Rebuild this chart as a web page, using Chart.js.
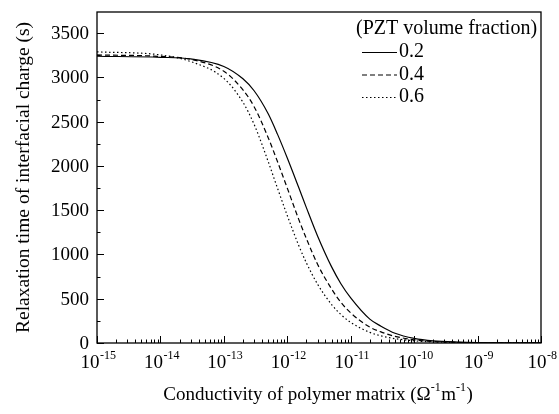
<!DOCTYPE html>
<html>
<head>
<meta charset="utf-8">
<script src="https://cdn.jsdelivr.net/npm/chart.js@4.4.1/dist/chart.umd.min.js"></script>
<style>
  html, body { margin: 0; padding: 0; background: #fff; }
  #wrap { width: 559px; height: 414px; }
</style>
</head>
<body>
<div id="wrap"><canvas id="c" width="559" height="414"></canvas></div>
<script>
// ---- data ----
const conductivity = [1e-15, 1e-14, 3e-14, 1e-13, 2e-13, 3e-13, 5e-13, 7e-13, 1e-12, 1.5e-12, 2e-12, 3e-12, 5e-12, 7e-12, 1e-11, 2e-11, 3e-11, 5e-11, 1e-10, 2e-10, 5e-10, 1e-9, 1e-8];
const seriesLabels = ['0.2', '0.4', '0.6'];
const tau02 = [3240, 3228, 3210, 3125, 2985, 2850, 2590, 2360, 2090, 1765, 1530, 1210, 860, 670, 510, 270, 190, 110, 52, 24, 10, 5, 1];
const tau04 = [3255, 3238, 3205, 3070, 2860, 2670, 2320, 2050, 1750, 1405, 1180, 890, 610, 460, 340, 180, 125, 75, 36, 17, 7, 3.5, 0.5];
const tau06 = [3290, 3255, 3180, 2990, 2720, 2470, 2050, 1750, 1440, 1110, 906, 665, 434, 322, 233, 120, 81, 49, 25, 12, 5, 2.5, 0.3];
const legendTitle = '(PZT volume fraction)';
const xTickValues = [1e-15, 1e-14, 1e-13, 1e-12, 1e-11, 1e-10, 1e-9, 1e-8];
const xTickBase = '10';
const xTickExponents = ['-15', '-14', '-13', '-12', '-11', '-10', '-9', '-8'];
const yTickValues = [0, 500, 1000, 1500, 2000, 2500, 3000, 3500];
const yTickLabels = ['0', '500', '1000', '1500', '2000', '2500', '3000', '3500'];
const yMinorValues = [250, 750, 1250, 1750, 2250, 2750, 3250];
// x title pieces: [text, isSuperscript]
const xTitleParts = [['Conductivity of polymer matrix (\u03A9', false], ['-1', true], ['m', false], ['-1', true], [')', false]];
const yTitle = 'Relaxation time of interfacial charge (s)';

const FONT = "'Liberation Serif', 'Times New Roman', serif";

function pts(ys) { return conductivity.map((x, i) => ({ x: x, y: ys[i] })); }

const dashes = [[], [5, 3], [1.5, 2.5]];

const datasets = [tau02, tau04, tau06].map((ys, i) => ({
  label: seriesLabels[i],
  data: pts(ys),
  borderColor: '#000',
  borderWidth: 1.2,
  borderDash: dashes[i],
  pointRadius: 0,
  fill: false,
  cubicInterpolationMode: 'monotone'
}));

// inward ticks, frame, tick labels, x title
const framePlugin = {
  id: 'framePlugin',
  afterDatasetsDraw(chart) {
    const ctx = chart.ctx, a = chart.chartArea;
    const xs = chart.scales.x, ys = chart.scales.y;
    ctx.save();
    ctx.strokeStyle = '#000';
    ctx.lineWidth = 1.3;
    ctx.strokeRect(a.left, a.top, a.right - a.left, a.bottom - a.top);
    ctx.lineWidth = 1;
    ctx.beginPath();
    for (let e = -15; e <= -8; e++) {
      for (let m = 1; m <= 9; m++) {
        const v = m * Math.pow(10, e);
        if (v > 1.0001e-8) break;
        const px = Math.round(xs.getPixelForValue(v)) + 0.5;
        const len = (m === 1) ? 7 : 3.5;
        ctx.moveTo(px, a.bottom);
        ctx.lineTo(px, a.bottom - len);
      }
    }
    yTickValues.forEach(v => {
      const py = Math.round(ys.getPixelForValue(v)) + 0.5;
      ctx.moveTo(a.left, py); ctx.lineTo(a.left + 7, py);
    });
    yMinorValues.forEach(v => {
      const py = Math.round(ys.getPixelForValue(v)) + 0.5;
      ctx.moveTo(a.left, py); ctx.lineTo(a.left + 3.5, py);
    });
    ctx.stroke();

    ctx.fillStyle = '#000';
    // y tick labels
    ctx.font = '19px ' + FONT;
    ctx.textAlign = 'right';
    ctx.textBaseline = 'middle';
    yTickValues.forEach((v, i) => {
      ctx.fillText(yTickLabels[i], a.left - 8, ys.getPixelForValue(v) + 1);
    });

    // x tick labels
    ctx.textBaseline = 'alphabetic';
    ctx.textAlign = 'left';
    const base = a.bottom + 25;
    xTickValues.forEach((v, i) => {
      const px = xs.getPixelForValue(v);
      ctx.font = '19px ' + FONT;
      const w1 = ctx.measureText(xTickBase).width;
      ctx.font = '12px ' + FONT;
      const w2 = ctx.measureText(xTickExponents[i]).width;
      const x0 = px - (w1 + w2) / 2 + 1;
      ctx.font = '19px ' + FONT;
      ctx.fillText(xTickBase, x0, base);
      ctx.font = '12px ' + FONT;
      ctx.fillText(xTickExponents[i], x0 + w1 + 0.5, base - 9);
    });

    // x title
    let total = 0;
    xTitleParts.forEach(([t, sup]) => {
      ctx.font = (sup ? '12px ' : '19px ') + FONT;
      total += ctx.measureText(t).width + (sup ? 0.5 : 0);
    });
    let cx = 318 - total / 2;
    const tb = 400;
    xTitleParts.forEach(([t, sup]) => {
      ctx.font = (sup ? '12px ' : '19px ') + FONT;
      ctx.fillText(t, cx, sup ? tb - 9 : tb);
      cx += ctx.measureText(t).width + (sup ? 0.5 : 0);
    });
    ctx.restore();
  }
};

// in-plot legend
const legendPlugin = {
  id: 'legendPlugin',
  afterDraw(chart) {
    const ctx = chart.ctx, a = chart.chartArea;
    ctx.save();
    ctx.fillStyle = '#000';
    ctx.font = '20px ' + FONT;
    ctx.textBaseline = 'middle';
    ctx.textAlign = 'left';
    const x0 = 356;
    ctx.fillText(legendTitle, x0, a.top + 17);
    chart.data.datasets.forEach((ds, i) => {
      const y = a.top + 40 + i * 22.5;
      ctx.beginPath();
      ctx.setLineDash(ds.borderDash || []);
      ctx.lineWidth = 1.1;
      ctx.strokeStyle = '#000';
      ctx.moveTo(x0 + 6, y + 0.5);
      ctx.lineTo(x0 + 41, y + 0.5);
      ctx.stroke();
      ctx.setLineDash([]);
      ctx.fillText(ds.label, x0 + 43, y);
    });
    ctx.restore();
  }
};

new Chart(document.getElementById('c'), {
  type: 'line',
  data: { datasets: datasets },
  options: {
    responsive: false,
    animation: false,
    devicePixelRatio: 1,
    layout: { padding: { left: 0, right: 18, top: 12, bottom: 0 } },
    plugins: { legend: { display: false }, tooltip: { enabled: false } },
    scales: {
      x: {
        type: 'logarithmic',
        min: 1e-15,
        max: 1e-8,
        afterBuildTicks(scale) { scale.ticks = xTickValues.map(v => ({ value: v })); },
        afterFit(scale) { scale.height = 71; },
        grid: { display: false, drawTicks: false },
        border: { display: false },
        ticks: { display: false },
        title: { display: false }
      },
      y: {
        type: 'linear',
        min: 0,
        max: 3740,
        afterBuildTicks(scale) { scale.ticks = yTickValues.map(v => ({ value: v })); },
        afterFit(scale) { scale.width = 97; },
        grid: { display: false, drawTicks: false },
        border: { display: false },
        ticks: { display: false },
        title: {
          display: true,
          text: yTitle,
          color: '#000',
          font: { family: FONT, size: 19.5 },
          padding: { top: 12, bottom: 0 }
        }
      }
    }
  },
  plugins: [framePlugin, legendPlugin]
});
</script>
</body>
</html>
